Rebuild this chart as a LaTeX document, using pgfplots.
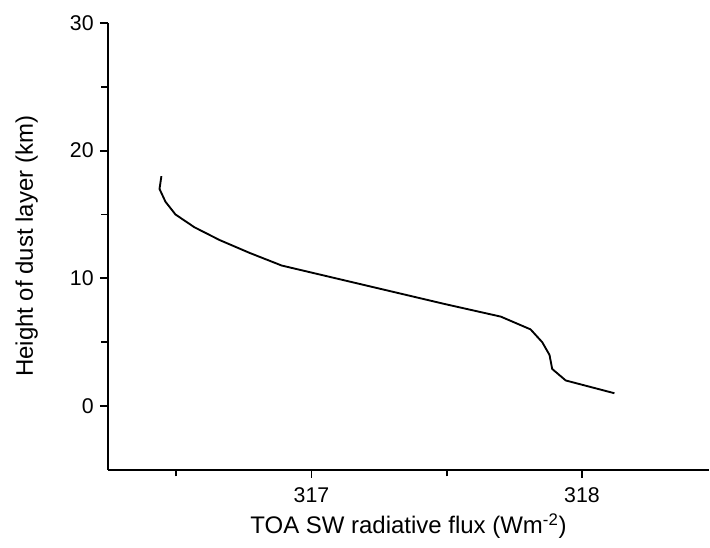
\documentclass[border=0pt]{standalone}
\usepackage{pgfplots}
\pgfplotsset{compat=1.18}
\usepackage{fontspec}
\setmainfont{Liberation Sans}

\begin{document}
\begin{tikzpicture}
\begin{axis}[
    scale only axis,
    width=451.5pt, height=335.6pt,
    xmin=316.247, xmax=318.47,
    ymin=-5, ymax=30,
    axis x line=bottom, axis y line=left,
    axis line style={-, line width=1.4pt},
    tick align=outside,
    xtick={317,318}, minor xtick={316.5,317.5},
    ytick={0,10,20,30}, minor ytick={5,15,25},
    major tick length=6pt, minor tick length=5pt,
    every tick/.style={black, line width=1.4pt},
    /pgf/number format/assume math mode=true,
    /pgf/number format/.cd, use comma=false, 1000 sep={},
    /pgfplots/.cd,
    every tick label/.append style={font=\fontsize{16}{18}\selectfont},
    label style={font=\fontsize{18}{22}\selectfont},
    xticklabel style={anchor=north, inner sep=0pt, yshift=-7pt},
    yticklabel style={anchor=east, inner sep=0pt, xshift=-4.5pt},
    xlabel={TOA SW radiative flux (Wm\textsuperscript{-2})},
    ylabel={Height of dust layer (km)},
    xlabel style={at={([yshift=-42.5pt]axis description cs:0.5,0)}, anchor=center},
    ylabel style={at={([xshift=-61pt]axis description cs:0,0.5)}, anchor=center},
    clip=false,
]
\addplot[black, line width=1.4pt] coordinates {
    (318.12,1)
    (317.94,2)
    (317.89,2.9)
    (317.88,4)
    (317.853,5)
    (317.81,6)
    (317.70,7)
    (317.49,8)
    (317.29,9)
    (317.09,10)
    (316.89,11)
    (316.77,12)
    (316.66,13)
    (316.567,14)
    (316.497,15)
    (316.46,16)
    (316.438,17)
    (316.445,18)
};
\end{axis}
\path (current axis.south west) ++(-81pt,-58pt);
\path (current axis.north west) ++(0pt,17.25pt);
\end{tikzpicture}
\end{document}
